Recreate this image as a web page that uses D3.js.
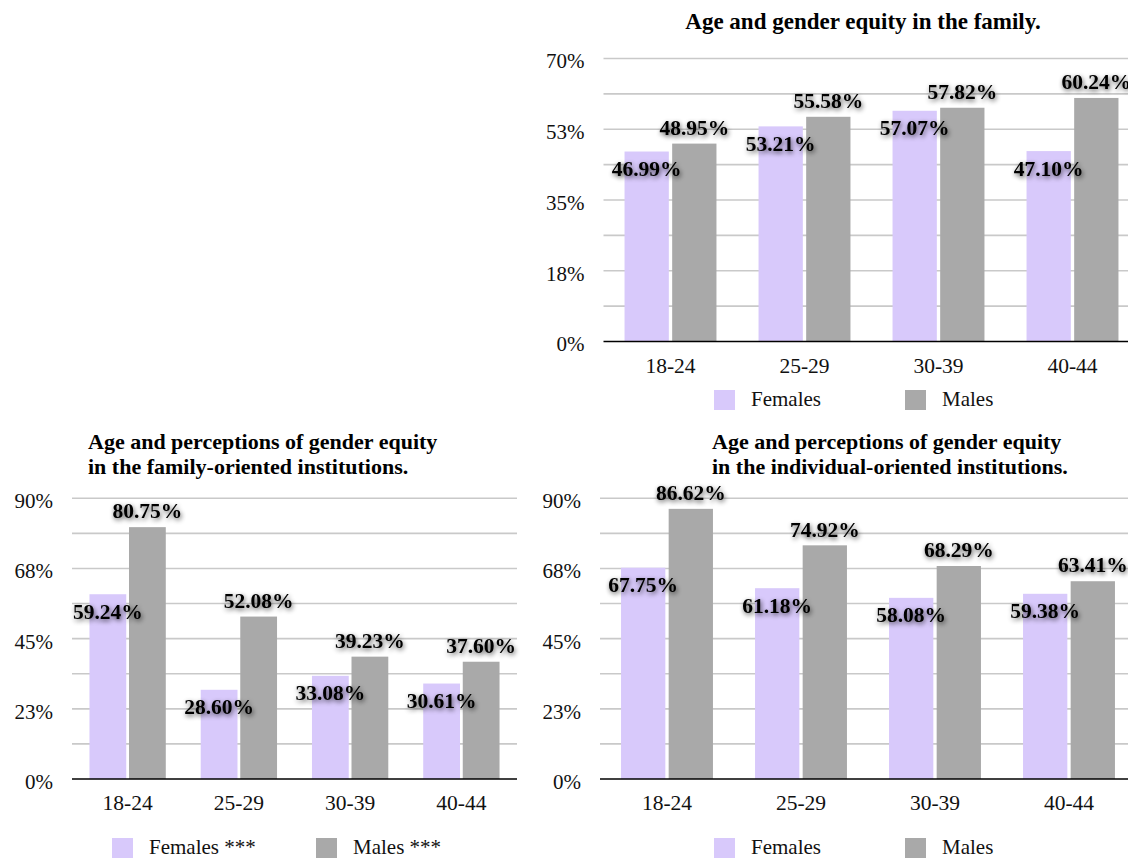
<!DOCTYPE html>
<html>
<head>
<meta charset="utf-8">
<script src="https://cdn.jsdelivr.net/npm/d3@7"></script>
<style>
  html, body { margin: 0; padding: 0; background: #ffffff; }
  svg { display: block; }
  text { font-family: "Liberation Serif", "Times New Roman", serif; }
</style>
</head>
<body>
<svg id="chart" width="1128" height="858"></svg>
<script>
// Age groups shared by all three panels
const ageGroups = ["18-24", "25-29", "30-39", "40-44"];
const seriesNames = ["Females", "Males"];

// Panel 1: gender equity in the family (%)
const familyFemales = [46.99, 53.21, 57.07, 47.10];
const familyMales   = [48.95, 55.58, 57.82, 60.24];

// Panel 2: family-oriented institutions (%)
const famInstFemales = [59.24, 28.60, 33.08, 30.61];
const famInstMales   = [80.75, 52.08, 39.23, 37.60];

// Panel 3: individual-oriented institutions (%)
const indInstFemales = [67.75, 61.18, 58.08, 59.38];
const indInstMales   = [86.62, 74.92, 68.29, 63.41];

// Axis ticks and their printed labels
const familyTicks = [0, 17.5, 35, 52.5, 70];
const familyTickLabels = ["0%", "18%", "35%", "53%", "70%"];
const instTicks = [0, 22.5, 45, 67.5, 90];
const instTickLabels = ["0%", "23%", "45%", "68%", "90%"];

const colors = { Females: "#d8c9fb", Males: "#a9a9a9" };

const svg = d3.select("#chart");

// soft dark halo behind the value labels
const defs = svg.append("defs");
const f = defs.append("filter").attr("id", "halo")
  .attr("x", "-20%").attr("y", "-40%").attr("width", "140%").attr("height", "180%");
f.append("feGaussianBlur").attr("in", "SourceAlpha").attr("stdDeviation", 2.4).attr("result", "b");
f.append("feOffset").attr("in", "b").attr("dx", 1).attr("dy", 1.5).attr("result", "o");
f.append("feComponentTransfer").attr("in", "o").attr("result", "s")
  .append("feFuncA").attr("type", "linear").attr("slope", 0.7);
const m = f.append("feMerge");
m.append("feMergeNode").attr("in", "s");
m.append("feMergeNode").attr("in", "SourceGraphic");

function drawPanel(cfg) {
  const g = svg.append("g");
  const data = ageGroups.map((a, i) => ({
    group: a,
    values: [
      { key: "Females", value: cfg.females[i] },
      { key: "Males", value: cfg.males[i] }
    ]
  }));

  const x0 = d3.scaleBand().domain(ageGroups).range([cfg.x0, cfg.x1]);
  const bw = x0.bandwidth();
  const x1 = d3.scaleBand().domain(seriesNames)
    .range([bw * 0.157, bw * 0.843]).paddingInner(0.07);
  const y = d3.scaleLinear().domain([0, cfg.max]).range([cfg.yBottom, cfg.yTop]);

  // gridlines every eighth of the range
  const grid = d3.range(0, 9).map(k => cfg.max * k / 8);
  g.append("g").selectAll("line").data(grid.slice(1)).join("line")
    .attr("x1", cfg.x0).attr("x2", cfg.x1)
    .attr("y1", d => y(d)).attr("y2", d => y(d))
    .attr("stroke", "#c9c9c9").attr("stroke-width", 1.6);

  // y tick labels
  const yAxis = d3.axisLeft(y).tickValues(cfg.ticks)
    .tickFormat((d, i) => cfg.tickLabels[i]).tickSize(0).tickPadding(19);
  const ya = g.append("g").attr("transform", `translate(${cfg.x0},0)`).call(yAxis);
  ya.select(".domain").remove();
  ya.selectAll("text")
    .attr("font-size", 21).attr("fill", "#111").attr("dy", "0.45em");

  // bars
  const groups = g.append("g").selectAll("g").data(data).join("g")
    .attr("transform", d => `translate(${x0(d.group)},0)`);
  groups.selectAll("rect").data(d => d.values).join("rect")
    .attr("x", d => x1(d.key)).attr("width", x1.bandwidth())
    .attr("y", d => y(d.value)).attr("height", d => y(0) - y(d.value))
    .attr("fill", d => colors[d.key]);

  // baseline
  g.append("line").attr("x1", cfg.x0).attr("x2", cfg.x1)
    .attr("y1", y(0)).attr("y2", y(0))
    .attr("stroke", "#000").attr("stroke-width", 1.6);

  // x category labels
  const xAxis = d3.axisBottom(x0).tickSize(0).tickPadding(0);
  const xa = g.append("g").attr("transform", `translate(0,${y(0)})`).call(xAxis);
  xa.select(".domain").remove();
  xa.selectAll("text")
    .attr("font-size", 21.5).attr("fill", "#111")
    .attr("y", cfg.catOffset).attr("dy", 0);

  // value labels: females inside the bar top, males above it
  groups.selectAll("text.val").data(d => d.values).join("text")
    .attr("class", "val")
    .attr("x", d => x1(d.key) + x1.bandwidth() / 2)
    .attr("y", d => d.key === "Females" ? y(d.value) + 24.5 : y(d.value) - 8.8)
    .attr("text-anchor", "middle")
    .attr("font-size", 21.5).attr("font-weight", "bold").attr("fill", "#000")
    .attr("filter", "url(#halo)")
    .text(d => d.value.toFixed(2) + "%");

  // title
  const t = g.append("text")
    .attr("font-size", cfg.titleSize).attr("font-weight", "bold").attr("fill", "#000");
  if (cfg.titleAnchor) t.attr("text-anchor", cfg.titleAnchor);
  cfg.title.forEach((line, i) => {
    t.append("tspan").attr("x", cfg.titleX).attr("y", cfg.titleY + i * 24.5).text(line);
  });

  // legend
  const lg = g.append("g").selectAll("g").data(seriesNames).join("g")
    .attr("transform", (d, i) => `translate(${cfg.legendX[i]},${cfg.legendY})`);
  lg.append("rect").attr("width", 21).attr("height", 20).attr("fill", d => colors[d]);
  lg.append("text").attr("x", 37).attr("y", 16)
    .attr("font-size", 21).attr("fill", "#111")
    .text(d => d + cfg.legendSuffix);
}

drawPanel({
  females: familyFemales, males: familyMales, max: 70,
  ticks: familyTicks, tickLabels: familyTickLabels,
  x0: 603.5, x1: 1139.5, yTop: 58.5, yBottom: 341.5,
  catOffset: 31.5,
  title: ["Age and gender equity in the family."], titleX: 863, titleY: 29,
  titleAnchor: "middle", titleSize: 23,
  legendX: [714, 905], legendY: 390, legendSuffix: ""
});

drawPanel({
  females: famInstFemales, males: famInstMales, max: 90,
  ticks: instTicks, tickLabels: instTickLabels,
  x0: 72, x1: 517, yTop: 498.3, yBottom: 779,
  catOffset: 31,
  title: ["Age and perceptions of gender equity", "in the family-oriented institutions."],
  titleX: 88, titleY: 449, titleSize: 22,
  legendX: [112, 316], legendY: 838, legendSuffix: " ***"
});

drawPanel({
  females: indInstFemales, males: indInstMales, max: 90,
  ticks: instTicks, tickLabels: instTickLabels,
  x0: 600, x1: 1136, yTop: 498.3, yBottom: 779,
  catOffset: 31,
  title: ["Age and perceptions of gender equity", "in the individual-oriented institutions."],
  titleX: 712, titleY: 449, titleSize: 22,
  legendX: [714, 905], legendY: 838, legendSuffix: ""
});
</script>
</body>
</html>
